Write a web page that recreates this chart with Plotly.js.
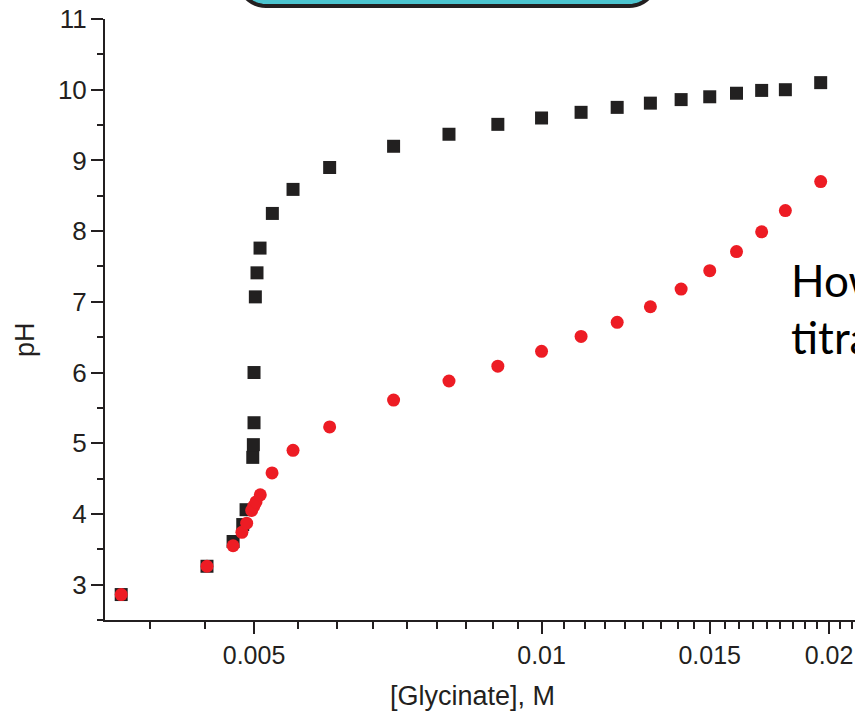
<!DOCTYPE html>
<html><head><meta charset="utf-8">
<script src="https://cdn.plot.ly/plotly-3.0.1.min.js"></script>
<style>html,body{margin:0;padding:0;background:#fff;}#chart{width:855px;height:712px;}</style>
</head><body><div id="chart"></div>
<script>
// ---- data ----
const blackX = [0.00363, 0.004464, 0.004754, 0.004866, 0.004905, 0.004985, 0.004992, 0.005, 0.005, 0.005016, 0.005036, 0.005073, 0.005226, 0.005493, 0.006, 0.007, 0.008, 0.009, 0.01, 0.011, 0.012, 0.013, 0.014, 0.015, 0.016, 0.017, 0.018, 0.0196];
const blackY = [2.86, 3.26, 3.61, 3.85, 4.06, 4.80, 4.98, 5.29, 6.00, 7.07, 7.41, 7.76, 8.25, 8.59, 8.90, 9.20, 9.37, 9.51, 9.60, 9.68, 9.75, 9.81, 9.86, 9.90, 9.95, 9.99, 10.00, 10.10];
const redX = [0.00363, 0.004464, 0.004754, 0.004856, 0.004912, 0.004972, 0.004997, 0.005024, 0.005076, 0.005222, 0.005493, 0.006, 0.007, 0.008, 0.009, 0.01, 0.011, 0.012, 0.013, 0.014, 0.015, 0.016, 0.017, 0.018, 0.0196];
const redY = [2.86, 3.26, 3.55, 3.74, 3.87, 4.05, 4.11, 4.17, 4.27, 4.58, 4.90, 5.23, 5.61, 5.88, 6.09, 6.30, 6.51, 6.71, 6.93, 7.18, 7.44, 7.71, 7.99, 8.29, 8.70];
const xTickVals = [0.005, 0.01, 0.015, 0.02];
const xTickText = ["0.005", "0.01", "0.015", "0.02"];
const yTickVals = [3, 4, 5, 6, 7, 8, 9, 10, 11];
const yTickText = ["3", "4", "5", "6", "7", "8", "9", "10", "11"];
const xTitle = "[Glycinate], M";
const yTitle = "pH";
const sideText = "How<br>titra";

// ---- layout constants ----
const L = 105, T = 19, W = 750, H = 601;
const ink = "#231f20";
const font = "'Liberation Sans', Arial, Helvetica, sans-serif";

const xMinorVals = [];
for (let k = 7; k <= 38; k++) { if (k % 9 !== 0) xMinorVals.push(k * 0.005 / 9); }
const yMinorVals = [];
for (let v = 2.5; v < 11; v += 1) yMinorVals.push(v);

function pp(px, py) { return [((px - L) / W).toFixed(5), ((T + H - py) / H).toFixed(5)]; }
function roundedBottomBox(x0, x1, yTop, yBot, r) {
  let pts = [];
  pts.push(pp(x0, yTop));
  for (let i = 0; i <= 12; i++) {
    const a = Math.PI - (Math.PI / 2) * i / 12;
    pts.push(pp(x0 + r + r * Math.cos(a), yBot - r + r * Math.sin(a)));
  }
  for (let i = 0; i <= 12; i++) {
    const a = Math.PI / 2 - (Math.PI / 2) * i / 12;
    pts.push(pp(x1 - r + r * Math.cos(a), yBot - r + r * Math.sin(a)));
  }
  pts.push(pp(x1, yTop));
  return "M" + pts.map(p => p[0] + "," + p[1]).join(" L") + " Z";
}

const traces = [
  { x: blackX, y: blackY, mode: "markers", type: "scatter", name: "black",
    marker: { symbol: "square", size: 13, color: "#222020" }, cliponaxis: false },
  { x: redX, y: redY, mode: "markers", type: "scatter", name: "red",
    marker: { symbol: "circle", size: 13, color: "#ed1c24" }, cliponaxis: false }
];

const layout = {
  width: 855, height: 712,
  margin: { l: L, r: 0, t: T, b: 712 - T - H, pad: 0 },
  paper_bgcolor: "#fff", plot_bgcolor: "#fff",
  showlegend: false,
  font: { family: font, color: ink, size: 26 },
  xaxis: {
    type: "log", range: [Math.log10(0.003491), Math.log10(0.02129)],
    tickmode: "array", tickvals: xTickVals, ticktext: xTickText,
    ticks: "outside", ticklen: 12, tickwidth: 2, tickcolor: ink,
    ticklabelstandoff: 0,
    minor: { tickmode: "array", tickvals: xMinorVals, ticks: "outside", ticklen: 7, tickwidth: 2, tickcolor: ink, showgrid: false },
    showline: true, linecolor: ink, linewidth: 2, showgrid: false, zeroline: false,
    tickfont: { family: font, size: 25, color: ink }
  },
  yaxis: {
    range: [2.5, 11],
    tickmode: "array", tickvals: yTickVals, ticktext: yTickText,
    ticks: "outside", ticklen: 12, tickwidth: 2, tickcolor: ink,
    ticklabelstandoff: -1,
    minor: { tickmode: "array", tickvals: yMinorVals, ticks: "outside", ticklen: 6, tickwidth: 2, tickcolor: ink, showgrid: false },
    showline: true, linecolor: ink, linewidth: 2, showgrid: false, zeroline: false,
    tickfont: { family: font, size: 26, color: ink }
  },
  annotations: [
    { text: yTitle, xref: "paper", yref: "paper", x: (25 - L) / W, y: (T + H - 340) / H,
      xanchor: "center", yanchor: "middle", textangle: -90, showarrow: false,
      font: { family: font, size: 27, color: ink } },
    { text: xTitle, xref: "paper", yref: "paper", x: (472 - L) / W, y: (T + H - 696) / H,
      xanchor: "center", yanchor: "middle", showarrow: false,
      font: { family: font, size: 27, color: ink } },
    { text: sideText, xref: "paper", yref: "paper", x: (789 - L) / W, y: (T + H - 308) / H,
      xanchor: "left", yanchor: "middle", align: "left", showarrow: false,
      font: { family: "Lato, 'Open Sans', sans-serif", size: 44, color: "#000" } }
  ],
  shapes: [
    { type: "path", xref: "paper", yref: "paper", layer: "above",
      path: roundedBottomBox(238, 657, -80, 6, 28),
      fillcolor: "#4cc4cf", line: { color: ink, width: 4 } }
  ]
};

Plotly.newPlot("chart", traces, layout, { displayModeBar: false, staticPlot: true });
</script>
</body></html>
